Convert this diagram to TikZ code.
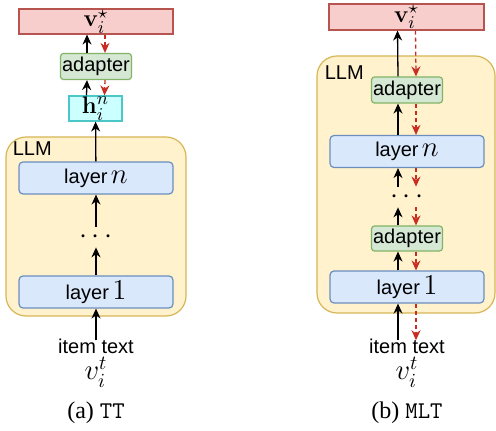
\documentclass[tikz,border=0pt]{standalone}
\usepackage[no-math]{fontspec}
\setmainfont{Liberation Sans}
\newfontfamily\capfont{Liberation Serif}
\usetikzlibrary{arrows.meta,positioning}

\definecolor{outfill}{HTML}{F8CECC}
\definecolor{outline}{HTML}{B85450}
\definecolor{adfill}{HTML}{D5E8D4}
\definecolor{adline}{HTML}{82B366}
\definecolor{layfill}{HTML}{DAE8FC}
\definecolor{layline}{HTML}{6C8EBF}
\definecolor{llmfill}{HTML}{FFF2CC}
\definecolor{llmline}{HTML}{D6B656}
\definecolor{hidfill}{HTML}{CCFFFF}
\definecolor{hidline}{HTML}{4CC7C7}
\definecolor{backred}{RGB}{200,45,35}

\newcommand{\mth}[1]{{\fontsize{14}{16}\selectfont$#1$}}
\newcommand{\mbth}[1]{{\fontsize{13}{15}\selectfont$#1$}}

\begin{document}
\begin{tikzpicture}[
    x=0.5pt, y=-0.5pt,
    font=\fontsize{10}{12}\selectfont,
    every node/.style={inner sep=0pt, align=center},
    outbox/.style={draw=outline, fill=outfill, line width=0.6pt,
        minimum width=77pt, minimum height=12.5pt},
    adaptbox/.style={draw=adline, fill=adfill, line width=0.6pt,
        rounded corners=1.5pt, minimum width=35.5pt, minimum height=13pt},
    laybox/.style={draw=layline, fill=layfill, line width=0.6pt,
        rounded corners=2pt, minimum width=77pt, minimum height=16pt},
    hidbox/.style={draw=hidline, fill=hidfill, line width=0.6pt,
        minimum width=26.5pt, minimum height=12.5pt},
    llmbox/.style={draw=llmline, fill=llmfill, line width=0.6pt,
        rounded corners=10pt},
    dotnode/.style={minimum height=10pt, minimum width=10pt},
    upar/.style={-{Stealth[length=5pt,width=4.5pt]}, line width=0.65pt},
    downar/.style={-{Stealth[length=5pt,width=4.5pt]}, line width=0.65pt,
        draw=backred, dash pattern=on 2pt off 1.5pt}
]
\useasboundingbox (0,0) rectangle (496,431);

% (a) TT
\node[llmbox, minimum width=90pt, minimum height=89.5pt] (llmA) at (96,226.5) {};
\node[anchor=north west] (llmlabA) at ([xshift=3.5pt,yshift=-2.5pt]llmA.north west) {LLM};
\node[outbox] (voutA) at (96,21.5) {\mbth{\mathbf{v}_i^{\star}}};
\node[adaptbox] (adaptA) at (96,66.5) {adapter};
\node[hidbox] (hidA) at (95.5,108.5) {\mbth{\mathbf{h}_i^{n}}};
\node[laybox] (laynA) at (96,178) {layer\,\mth{n}};
\node[dotnode] (dotsA) at (96,237) {\mth{\cdots}};
\node[laybox] (lay1A) at (96,292) {layer\,\mth{1}};
\node[inner sep=1pt] (itemA) at (96,346) {item text};
\node[below=0.5pt of itemA] (vtA) {\mth{v_i^t}};
\node (capA) at (96,413) {\capfont\fontsize{12}{14}\selectfont(a) \texttt{TT}};

\draw[upar] ([yshift=-2pt]itemA.north) -- (lay1A);
\draw[upar] (lay1A) -- (dotsA);
\draw[upar] (dotsA) -- (laynA);
\draw[upar] (laynA) -- (hidA);
\draw[upar] ([xshift=-4.5pt]hidA.north) -- ([xshift=-4.5pt]adaptA.south);
\draw[upar] ([xshift=-4.5pt]adaptA.north) -- ([xshift=-4.5pt]voutA.south);
\draw[downar] ([xshift=4.5pt]voutA.south) -- ([xshift=4.5pt]adaptA.north);
\draw[downar] ([xshift=4.5pt]adaptA.south) -- ([xshift=4.5pt]hidA.north);

% (b) MLT
\node[llmbox, minimum width=89pt, minimum height=128.5pt] (llmB) at (406,184.5) {};
\node[anchor=north west] (llmlabB) at ([xshift=4pt,yshift=-5pt]llmB.north west) {LLM};
\node[outbox, minimum width=77.5pt, minimum height=13pt] (voutB) at (406.5,17) {\mbth{\mathbf{v}_i^{\star}}};
\node[adaptbox] (adaptBt) at (407,90) {adapter};
\node[laybox] (laynB) at (407,151.5) {layer\,\mth{n}};
\node[dotnode] (dotsB) at (407,197) {\mth{\cdots}};
\node[adaptbox, minimum height=12.5pt] (adaptBb) at (407,238.5) {adapter};
\node[laybox] (lay1B) at (407,287) {layer\,\mth{1}};
\node[inner sep=1pt] (itemB) at (407,346) {item text};
\node[below=0.5pt of itemB] (vtB) {\mth{v_i^t}};
\node (capB) at (407,413) {\capfont\fontsize{12}{14}\selectfont(b) \texttt{MLT}};

\foreach \a/\b in {lay1B/adaptBb, adaptBb/dotsB, dotsB/laynB, laynB/adaptBt, adaptBt/voutB}
  \draw[upar] ([xshift=-4.5pt]\a.north) -- ([xshift=-4.5pt]\b.south);
\draw[upar] ([xshift=-4.5pt,yshift=-2pt]itemB.north) -- ([xshift=-4.5pt]lay1B.south);
\foreach \a/\b in {voutB/adaptBt, adaptBt/laynB, laynB/dotsB, dotsB/adaptBb, adaptBb/lay1B}
  \draw[downar] ([xshift=4.5pt]\a.south) -- ([xshift=4.5pt]\b.north);
\draw[downar] ([xshift=4.5pt]lay1B.south) -- ([xshift=4.5pt,yshift=-2pt]itemB.north);
\end{tikzpicture}
\end{document}
